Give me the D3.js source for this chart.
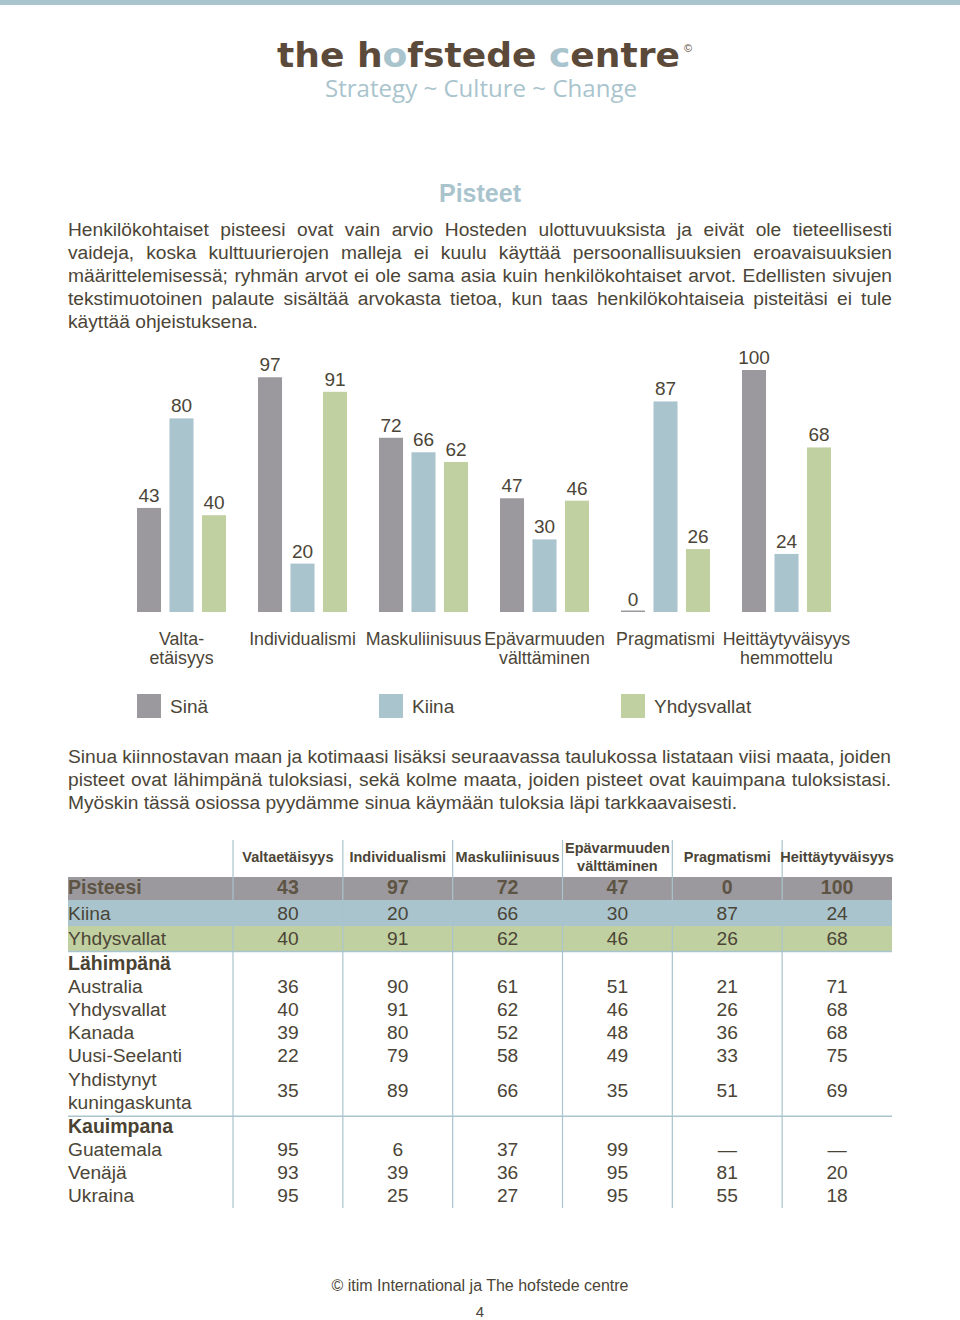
<!DOCTYPE html>
<html>
<head>
<meta charset="utf-8">
<script src="https://cdn.jsdelivr.net/npm/d3@7"></script>
<style>
  body { margin: 0; background: #fff; }
  svg text { font-family: "Liberation Sans", Arial, sans-serif; }
</style>
</head>
<body>
<script>
// chart data
var dimensions = ["Valtaetäisyys", "Individualismi", "Maskuliinisuus", "Epävarmuuden välttäminen", "Pragmatismi", "Heittäytyväisyys"];
var chartLabels = [["Valta-", "etäisyys"], ["Individualismi"], ["Maskuliinisuus"], ["Epävarmuuden", "välttäminen"], ["Pragmatismi"], ["Heittäytyväisyys", "hemmottelu"]];
var seriesNames = ["Sinä", "Kiina", "Yhdysvallat"];
var sinaValues = [43, 97, 72, 47, 0, 100];
var kiinaValues = [80, 20, 66, 30, 87, 24];
var usaValues = [40, 91, 62, 46, 26, 68];
var seriesColors = ["#9b999d", "#a9c4cd", "#c1d0a0"];

// table data
var tableHeaders = [["Valtaetäisyys"], ["Individualismi"], ["Maskuliinisuus"], ["Epävarmuuden", "välttäminen"], ["Pragmatismi"], ["Heittäytyväisyys"]];
var scoreRowNames = ["Pisteesi", "Kiina", "Yhdysvallat"];
var closestTitle = "Lähimpänä";
var closestNames = [["Australia"], ["Yhdysvallat"], ["Kanada"], ["Uusi-Seelanti"], ["Yhdistynyt", "kuningaskunta"]];
var closestValues = [
  [36, 90, 61, 51, 21, 71],
  [40, 91, 62, 46, 26, 68],
  [39, 80, 52, 48, 36, 68],
  [22, 79, 58, 49, 33, 75],
  [35, 89, 66, 35, 51, 69]
];
var farthestTitle = "Kauimpana";
var farthestNames = [["Guatemala"], ["Venäjä"], ["Ukraina"]];
var farthestValues = [
  [95, 6, 37, 99, null, null],
  [93, 39, 36, 95, 81, 20],
  [95, 25, 27, 95, 55, 18]
];

var para1 = [
  "Henkilökohtaiset pisteesi ovat vain arvio Hosteden ulottuvuuksista ja eivät ole tieteellisesti",
  "vaideja, koska kulttuurierojen malleja ei kuulu käyttää persoonallisuuksien eroavaisuuksien",
  "määrittelemisessä; ryhmän arvot ei ole sama asia kuin henkilökohtaiset arvot. Edellisten sivujen",
  "tekstimuotoinen palaute sisältää arvokasta tietoa, kun taas henkilökohtaiseia pisteitäsi ei tule",
  "käyttää ohjeistuksena."
];
var para2 = [
  "Sinua kiinnostavan maan ja kotimaasi lisäksi seuraavassa taulukossa listataan viisi maata, joiden",
  "pisteet ovat lähimpänä tuloksiasi, sekä kolme maata, joiden pisteet ovat kauimpana tuloksistasi.",
  "Myöskin tässä osiossa pyydämme sinua käymään tuloksia läpi tarkkaavaisesti."
];

const width = 960;
const height = 1320;
const textColor = "#4b4537";
const lightBlue = "#a9c4cd";

const svg = d3.select("body").append("svg")
    .attr("width", width)
    .attr("height", height);

// top band
svg.append("rect").attr("x", 0).attr("y", 0).attr("width", width).attr("height", 5).attr("fill", lightBlue);

// logo
const logo = svg.append("text")
    .attr("x", 277).attr("y", 67)
    .attr("textLength", 403).attr("lengthAdjust", "spacingAndGlyphs")
    .style("font-family", "'DejaVu Sans', sans-serif")
    .style("font-weight", "bold").style("font-size", "34px")
    .attr("fill", "#5b4a3a");
[["the h", "#5b4a3a"], ["o", lightBlue], ["fstede ", "#5b4a3a"], ["c", lightBlue], ["entre", "#5b4a3a"]]
  .forEach(function (p) { logo.append("tspan").attr("fill", p[1]).text(p[0]); });
svg.append("text").attr("x", 684).attr("y", 52).style("font-size", "11px").attr("fill", "#5b4a3a").text("©");
svg.append("text")
    .attr("x", 325).attr("y", 97)
    .attr("textLength", 312).attr("lengthAdjust", "spacingAndGlyphs")
    .style("font-family", "'Open Sans', sans-serif").style("font-size", "23px")
    .attr("fill", lightBlue)
    .text("Strategy ~ Culture ~ Change");

// title
svg.append("text")
    .attr("x", 480).attr("y", 202)
    .attr("text-anchor", "middle")
    .style("font-size", "25px").style("font-weight", "bold")
    .attr("fill", lightBlue)
    .text("Pisteet");

// justified text lines, word by word
function textLine(text, x0, x1, y, justify, size) {
    const words = text.split(" ");
    const g = svg.append("g").style("font-size", size + "px").attr("fill", textColor);
    const widths = words.map(function (w) {
        const t = g.append("text").text(w);
        const l = t.node().getComputedTextLength();
        t.remove();
        return l;
    });
    const total = d3.sum(widths);
    let gap = justify && words.length > 1 ? (x1 - x0 - total) / (words.length - 1) : size * 0.28;
    let x = x0;
    words.forEach(function (w, i) {
        g.append("text").attr("x", x).attr("y", y).text(w);
        x += widths[i] + gap;
    });
}

para1.forEach(function (line, i) {
    textLine(line, 68, 892, 236 + i * 23, i < para1.length - 1, 19.2);
});
para2.forEach(function (line, i) {
    textLine(line, 68, 891, 763 + i * 23, i < para2.length - 1, 19.2);
});

// bar chart
const baseY = 612;
const yScale = d3.scaleLinear().domain([0, 100]).range([baseY, 370]);
const x0 = d3.scaleBand().domain(dimensions).range([121, 847]);
const x1 = d3.scaleBand().domain(seriesNames).range([16, 105]).paddingInner(0.26).paddingOuter(0);

const seriesValues = [sinaValues, kiinaValues, usaValues];
const chartData = [];
dimensions.forEach(function (d, i) {
    seriesNames.forEach(function (s, j) {
        chartData.push({ dim: d, series: s, value: seriesValues[j][i], color: seriesColors[j] });
    });
});

const chart = svg.append("g");
chart.selectAll("rect.bar")
    .data(chartData)
    .enter()
    .append("rect")
    .attr("class", "bar")
    .attr("x", (d) => x0(d.dim) + x1(d.series))
    .attr("width", x1.bandwidth())
    .attr("y", (d) => Math.min(yScale(d.value), baseY - 1.5))
    .attr("height", (d) => Math.max(baseY - yScale(d.value), 1.5))
    .attr("fill", (d) => d.color);

chart.selectAll("text.val")
    .data(chartData)
    .enter()
    .append("text")
    .attr("class", "val")
    .attr("x", (d) => x0(d.dim) + x1(d.series) + x1.bandwidth() / 2)
    .attr("y", (d) => yScale(d.value) - 6)
    .attr("text-anchor", "middle")
    .style("font-size", "19px")
    .attr("fill", textColor)
    .text((d) => d.value);

chartLabels.forEach(function (lines, i) {
    const cx = x0(dimensions[i]) + x0.bandwidth() / 2;
    lines.forEach(function (l, k) {
        chart.append("text")
            .attr("x", cx).attr("y", 645 + k * 19)
            .attr("text-anchor", "middle")
            .style("font-size", "17.8px")
            .attr("fill", textColor)
            .text(l);
    });
});

// legend
seriesNames.forEach(function (s, j) {
    const lx = x0(dimensions[j * 2]) + x1(seriesNames[0]);
    svg.append("rect").attr("x", lx).attr("y", 694).attr("width", 24).attr("height", 24).attr("fill", seriesColors[j]);
    svg.append("text").attr("x", lx + 33).attr("y", 713)
        .style("font-size", "19px").attr("fill", textColor).text(s);
});

// table
const tLeft = 68, tRight = 892;
const colScale = d3.scaleBand().domain(dimensions).range([233, tRight]);
const rowH = 23.1;
const table = svg.append("g");

// coloured score rows
const bandTops = [877, 900, 926];
const bandBottoms = [900, 926, 951];
scoreRowNames.forEach(function (name, j) {
    table.append("rect")
        .attr("x", tLeft).attr("y", bandTops[j])
        .attr("width", tRight - tLeft).attr("height", bandBottoms[j] - bandTops[j])
        .attr("fill", seriesColors[j]);
});

// vertical rules
dimensions.forEach(function (d) {
    table.append("line")
        .attr("x1", colScale(d)).attr("x2", colScale(d))
        .attr("y1", 840).attr("y2", 1208)
        .attr("stroke", lightBlue).attr("stroke-width", 1.2);
});
table.append("line").attr("x1", tLeft).attr("x2", tRight).attr("y1", 951.5).attr("y2", 951.5)
    .attr("stroke", lightBlue).attr("stroke-width", 1.5);

// headers
tableHeaders.forEach(function (lines, i) {
    const cx = colScale(dimensions[i]) + colScale.bandwidth() / 2;
    const y0 = lines.length > 1 ? 853 : 862;
    lines.forEach(function (l, k) {
        table.append("text")
            .attr("x", cx).attr("y", y0 + k * 18)
            .attr("text-anchor", "middle")
            .style("font-size", "14.5px").style("font-weight", "bold")
            .attr("fill", textColor).text(l);
    });
});

// score rows text
scoreRowNames.forEach(function (name, j) {
    const y = bandBottoms[j] - 6.5;
    const bold = j === 0;
    table.append("text").attr("x", tLeft).attr("y", y)
        .style("font-size", bold ? "19.5px" : "19.2px").style("font-weight", bold ? "bold" : "normal")
        .attr("fill", bold ? "#5e5444" : textColor).text(name);
    seriesValues[j].forEach(function (v, i) {
        table.append("text")
            .attr("x", colScale(dimensions[i]) + colScale.bandwidth() / 2).attr("y", y)
            .attr("text-anchor", "middle")
            .style("font-size", bold ? "19.5px" : "19.2px").style("font-weight", bold ? "bold" : "normal")
            .attr("fill", bold ? "#5e5444" : textColor).text(v);
    });
});

function groupRows(title, names, values, startY) {
    table.append("text").attr("x", tLeft).attr("y", startY)
        .style("font-size", "19.5px").style("font-weight", "bold")
        .attr("fill", "#4a4232").text(title);
    let y = startY + rowH;
    names.forEach(function (lines, r) {
        lines.forEach(function (l, k) {
            table.append("text").attr("x", tLeft).attr("y", y + k * rowH)
                .style("font-size", "19.2px").attr("fill", textColor).text(l);
        });
        const vy = y + (lines.length - 1) * rowH / 2;
        values[r].forEach(function (v, i) {
            table.append("text")
                .attr("x", colScale(dimensions[i]) + colScale.bandwidth() / 2).attr("y", vy)
                .attr("text-anchor", "middle")
                .style("font-size", "19.2px").attr("fill", textColor)
                .text(v === null ? "—" : v);
        });
        y += lines.length * rowH;
    });
    return y;
}

const afterClosest = groupRows(closestTitle, closestNames, closestValues, 970);
table.append("line").attr("x1", tLeft).attr("x2", tRight)
    .attr("y1", afterClosest - 15.5).attr("y2", afterClosest - 15.5)
    .attr("stroke", lightBlue).attr("stroke-width", 1.5);
groupRows(farthestTitle, farthestNames, farthestValues, afterClosest + 1);

// footer
svg.append("text").attr("x", 480).attr("y", 1291).attr("text-anchor", "middle")
    .style("font-size", "16px").attr("fill", textColor)
    .text("© itim International ja The hofstede centre");
svg.append("text").attr("x", 480).attr("y", 1317).attr("text-anchor", "middle")
    .style("font-size", "15px").attr("fill", textColor).text("4");
</script>
</body>
</html>
